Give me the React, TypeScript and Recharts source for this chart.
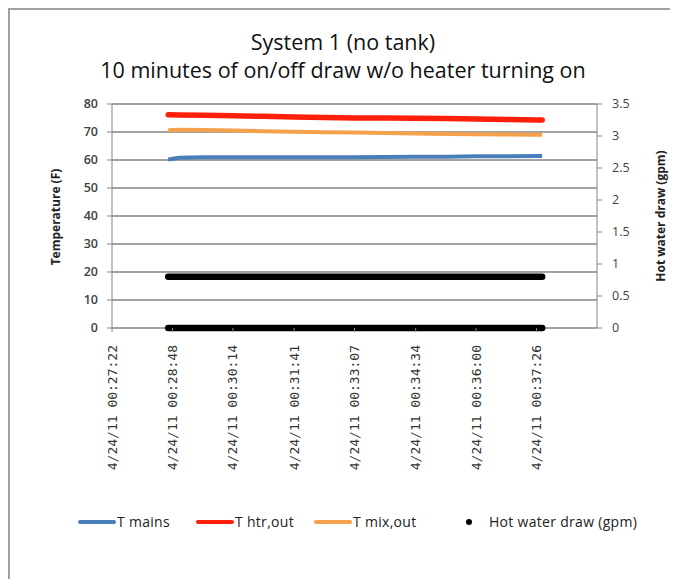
import React from 'react';
import { ComposedChart, Line, XAxis, YAxis, CartesianGrid } from 'recharts';

// Tick labels of the time axis
const xTickLabels = [
  '4/24/11 00:27:22',
  '4/24/11 00:28:48',
  '4/24/11 00:30:14',
  '4/24/11 00:31:41',
  '4/24/11 00:33:07',
  '4/24/11 00:34:34',
  '4/24/11 00:36:00',
  '4/24/11 00:37:26',
];
const toSec = (s: string) => {
  const [h, m, sec] = s.split(' ')[1].split(':').map(Number);
  return h * 3600 + m * 60 + sec;
};
const t0 = toSec(xTickLabels[0]);
const xTickSeconds = xTickLabels.map((l) => toSec(l) - t0);
const xDomainMax = 690;

// Samples: seconds after 00:27:22
const sampleSeconds = [80, 95, 130, 173, 216, 259, 302, 345, 388, 432, 475, 518, 561, 604, 612];
const tMains = [60.2, 60.8, 61.0, 61.0, 61.0, 61.0, 61.0, 61.0, 61.1, 61.2, 61.2, 61.3, 61.3, 61.4, 61.4];
const tHtrOut = [76.2, 76.1, 76.0, 75.8, 75.6, 75.4, 75.2, 75.0, 75.0, 74.9, 74.8, 74.6, 74.5, 74.3, 74.3];
const tMixOut = [70.6, 70.8, 70.7, 70.5, 70.3, 70.1, 69.9, 69.8, 69.6, 69.5, 69.3, 69.2, 69.1, 69.0, 69.0];
const drawOn = [0.8, 0.8, 0.8, 0.8, 0.8, 0.8, 0.8, 0.8, 0.8, 0.8, 0.8, 0.8, 0.8, 0.8, 0.8];
const drawOff = [0, 0, 0, 0, 0, 0, 0, 0, 0, 0, 0, 0, 0, 0, 0];

const leftTicks = [0, 10, 20, 30, 40, 50, 60, 70, 80];
const rightTicks = [0, 0.5, 1, 1.5, 2, 2.5, 3, 3.5];

const data = sampleSeconds.map((t, i) => ({
  t,
  mains: tMains[i],
  htr: tHtrOut[i],
  mix: tMixOut[i],
  on: drawOn[i],
  off: drawOff[i],
}));

const BLUE = '#4a7ebb';
const RED = '#ff1f0a';
const ORANGE = '#f5a04a';
const GRID = '#858585';

const XTick = (props: any) => {
  const { x, y, payload } = props;
  const i = xTickSeconds.indexOf(payload.value);
  return (
    <text
      x={x}
      y={y}
      transform={`rotate(-90, ${x}, ${y})`}
      textAnchor="end"
      dy="0.35em"
      fontFamily="'DejaVu Sans Mono', monospace"
      fontSize={13}
      fill="#333"
    >
      {i >= 0 ? xTickLabels[i] : ''}
    </text>
  );
};

const legendText: React.CSSProperties = {
  position: 'absolute',
  fontFamily: "'Open Sans', sans-serif",
  fontSize: 14,
  letterSpacing: 0.3,
  color: '#222',
  lineHeight: '20px',
  top: 504,
  whiteSpace: 'nowrap',
};

const swatch = (left: number, color: string): React.CSSProperties => ({
  position: 'absolute',
  left,
  top: 512,
  width: 38,
  height: 4,
  background: color,
  borderRadius: 2,
});

export default function App() {
  return (
    <div style={{ position: 'relative', width: 670, height: 571, background: '#fff' }}>
      <div
        style={{
          position: 'absolute',
          left: 0,
          top: 0,
          width: 670,
          height: 571,
          borderTop: '2px solid #a0a0a0',
          borderLeft: '2px solid #a0a0a0',
          boxSizing: 'border-box',
        }}
      />
      <div
        style={{
          position: 'absolute',
          left: 0,
          top: 20,
          width: 670,
          textAlign: 'center',
          fontFamily: "'Open Sans', sans-serif",
          fontSize: 21.5,
          lineHeight: '28px',
          color: '#111',
        }}
      >
        <div>System 1 (no tank)</div>
        <div>10 minutes of on/off draw w/o heater turning on</div>
      </div>
      <div style={{ position: 'absolute', left: 0, top: 0 }}>
        <ComposedChart
          width={670}
          height={571}
          data={data}
          margin={{ top: 96, right: 21, bottom: 101, left: 44 }}
        >
          <CartesianGrid yAxisId="left" vertical={false} stroke={GRID} strokeWidth={1.5} />
          <XAxis
            dataKey="t"
            type="number"
            domain={[0, xDomainMax]}
            ticks={xTickSeconds}
            interval={0}
            height={150}
            tick={<XTick />}
            tickSize={4}
            tickMargin={13}
            axisLine={false}
            tickLine={{ stroke: GRID }}
          />
          <YAxis
            yAxisId="left"
            orientation="left"
            width={60}
            domain={[0, 80]}
            ticks={leftTicks}
            interval={0}
            tickSize={5}
            tickMargin={9}
            axisLine={{ stroke: GRID }}
            tickLine={{ stroke: GRID }}
            tick={{ fontFamily: "'Open Sans', sans-serif", fontSize: 12.5, fontWeight: 600, fill: '#404040' }}
          />
          <YAxis
            yAxisId="right"
            orientation="right"
            width={60}
            domain={[0, 3.5]}
            ticks={rightTicks}
            interval={0}
            tickSize={5}
            tickMargin={10}
            axisLine={{ stroke: GRID }}
            tickLine={{ stroke: GRID }}
            tick={{ fontFamily: "'Open Sans', sans-serif", fontSize: 12.5, fill: '#404040', textAnchor: 'start' }}
          />
          <Line yAxisId="right" dataKey="off" stroke="#000" strokeWidth={6.5} strokeLinecap="round" dot={false} isAnimationActive={false} />
          <Line yAxisId="right" dataKey="on" stroke="#000" strokeWidth={6.5} strokeLinecap="round" dot={false} isAnimationActive={false} />
          <Line yAxisId="left" dataKey="mains" stroke={BLUE} strokeWidth={4} dot={false} isAnimationActive={false} />
          <Line yAxisId="left" dataKey="mix" stroke={ORANGE} strokeWidth={4} dot={false} isAnimationActive={false} />
          <Line yAxisId="left" dataKey="htr" stroke={RED} strokeWidth={5.5} strokeLinecap="round" dot={false} isAnimationActive={false} />
        </ComposedChart>
      </div>
      <div
        style={{
          position: 'absolute',
          left: 47,
          top: 209,
          transform: 'translate(-50%, -50%) rotate(-90deg)',
          fontFamily: "'Open Sans', sans-serif",
          fontSize: 12,
          fontWeight: 700,
          color: '#222',
          whiteSpace: 'nowrap',
        }}
      >
        Temperature (F)
      </div>
      <div
        style={{
          position: 'absolute',
          left: 652,
          top: 208,
          transform: 'translate(-50%, -50%) rotate(-90deg)',
          fontFamily: "'Open Sans', sans-serif",
          fontSize: 12,
          fontWeight: 700,
          color: '#222',
          whiteSpace: 'nowrap',
        }}
      >
        Hot water draw (gpm)
      </div>
      <div style={swatch(70, BLUE)} />
      <div style={{ ...legendText, left: 109 }}>T mains</div>
      <div style={swatch(188, RED)} />
      <div style={{ ...legendText, left: 227 }}>T htr,out</div>
      <div style={swatch(306, ORANGE)} />
      <div style={{ ...legendText, left: 345 }}>T mix,out</div>
      <div
        style={{
          position: 'absolute',
          left: 458,
          top: 511,
          width: 6,
          height: 6,
          borderRadius: 3,
          background: '#000',
        }}
      />
      <div style={{ ...legendText, left: 481 }}>Hot water draw (gpm)</div>
    </div>
  );
}
